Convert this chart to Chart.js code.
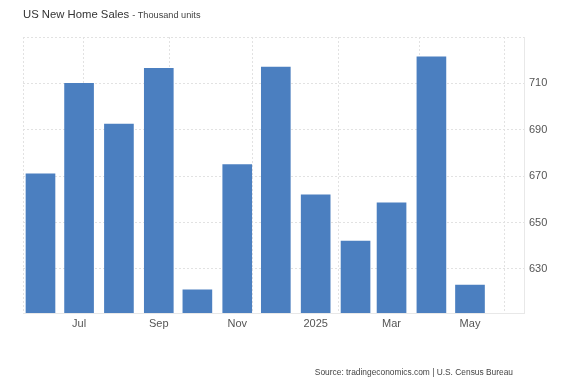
<!DOCTYPE html>
<html>
<head>
<meta charset="utf-8">
<script src="https://cdn.jsdelivr.net/npm/chart.js@4.4.0/dist/chart.umd.min.js"></script>
<style>
  html, body { margin: 0; padding: 0; background: #fff; }
  #wrap { position: relative; width: 562px; height: 384px; font-family: "Liberation Sans", Arial, sans-serif; }
  #title { position: absolute; left: 23px; top: 8px; font-size: 11.3px; color: #333; white-space: nowrap; }
  #title span { font-size: 9.2px; color: #444; }
  #source { position: absolute; right: 49px; top: 367px; font-size: 8.4px; color: #444; white-space: nowrap; }
  canvas { position: absolute; left: 0; top: 0; }
</style>
</head>
<body>
<div id="wrap">
  <canvas id="c" width="562" height="384"></canvas>
  <div id="title">US New Home Sales <span>- Thousand units</span></div>
  <div id="source">Source: tradingeconomics.com | U.S. Census Bureau</div>
</div>
<script>
// Data
const months = ['2024-06-01','2024-07-01','2024-08-01','2024-09-01','2024-10-01','2024-11-01',
                '2024-12-01','2025-01-01','2025-02-01','2025-03-01','2025-04-01','2025-05-01'];
const sales = [671, 710, 692.5, 716.5, 621, 675, 717, 662, 642, 658.5, 721.5, 623];
const xTickDates = ['2024-07-01','2024-09-01','2024-11-01','2025-01-01','2025-03-01','2025-05-01'];
const xTickLabels = ['Jul','Sep','Nov','2025','Mar','May'];
const yTicks = [630, 650, 670, 690, 710];

const DAY = 86400000;
const t0 = Date.UTC(2024, 5, 1);
const toDay = s => (Date.parse(s + 'T00:00:00Z') - t0) / DAY;

const points = months.map((m, i) => ({ x: toDay(m), y: sales[i] }));
const xTickVals = xTickDates.map(toDay);
const gridDays = [-13.6, 33.3, 100.7, 165.2, 232.1, 295.1, 361.2];

const X_MIN = -13.6, X_MAX = 376;
const gridColor = '#e2e2e2';

new Chart(document.getElementById('c'), {
  type: 'bar',
  data: {
    datasets: [{
      data: points,
      backgroundColor: '#4b7fc0',
      borderWidth: 0,
      barThickness: 29
    }]
  },
  options: {
    responsive: false,
    animation: false,
    layout: { padding: { left: 23, top: 37, right: 0, bottom: 51 } },
    plugins: { legend: { display: false }, tooltip: { enabled: false } },
    scales: {
      x: {
        type: 'linear',
        min: X_MIN, max: X_MAX,
        offset: false,
        afterBuildTicks: s => { s.ticks = xTickVals.map(v => ({ value: v })); },
        afterFit: s => { s.height = 20; },
        ticks: {
          autoSkip: false,
          maxRotation: 0,
          padding: 4,
          color: '#555',
          font: { family: 'Liberation Sans', size: 11 },
          callback: (v) => { const i = xTickVals.indexOf(v); return i >= 0 ? xTickLabels[i] : ''; }
        },
        grid: { display: false, drawTicks: false, offset: false },
        border: { display: true, color: '#e8e8e8', width: 1 }
      },
      xg: {
        type: 'linear',
        position: 'top',
        min: X_MIN, max: X_MAX,
        offset: false,
        afterBuildTicks: s => { s.ticks = gridDays.map(v => ({ value: v })); },
        afterFit: s => { s.height = 0; },
        ticks: { display: false },
        grid: { color: gridColor, drawTicks: false, lineWidth: 1, offset: false },
        border: { display: false, dash: [2, 2] }
      },
      y: {
        position: 'right',
        min: 611, max: 730,
        afterBuildTicks: s => { s.ticks = yTicks.concat([730]).map(v => ({ value: v })); },
        afterFit: s => { s.width = 38; },
        ticks: {
          padding: 5,
          color: '#555',
          font: { family: 'Liberation Sans', size: 11 },
          callback: v => (yTicks.includes(v) ? String(v) : '')
        },
        grid: { color: gridColor, drawTicks: false, lineWidth: 1 },
        border: { display: true, color: '#e8e8e8', width: 1, dash: [2, 2] }
      }
    }
  }
});
</script>
</body>
</html>
